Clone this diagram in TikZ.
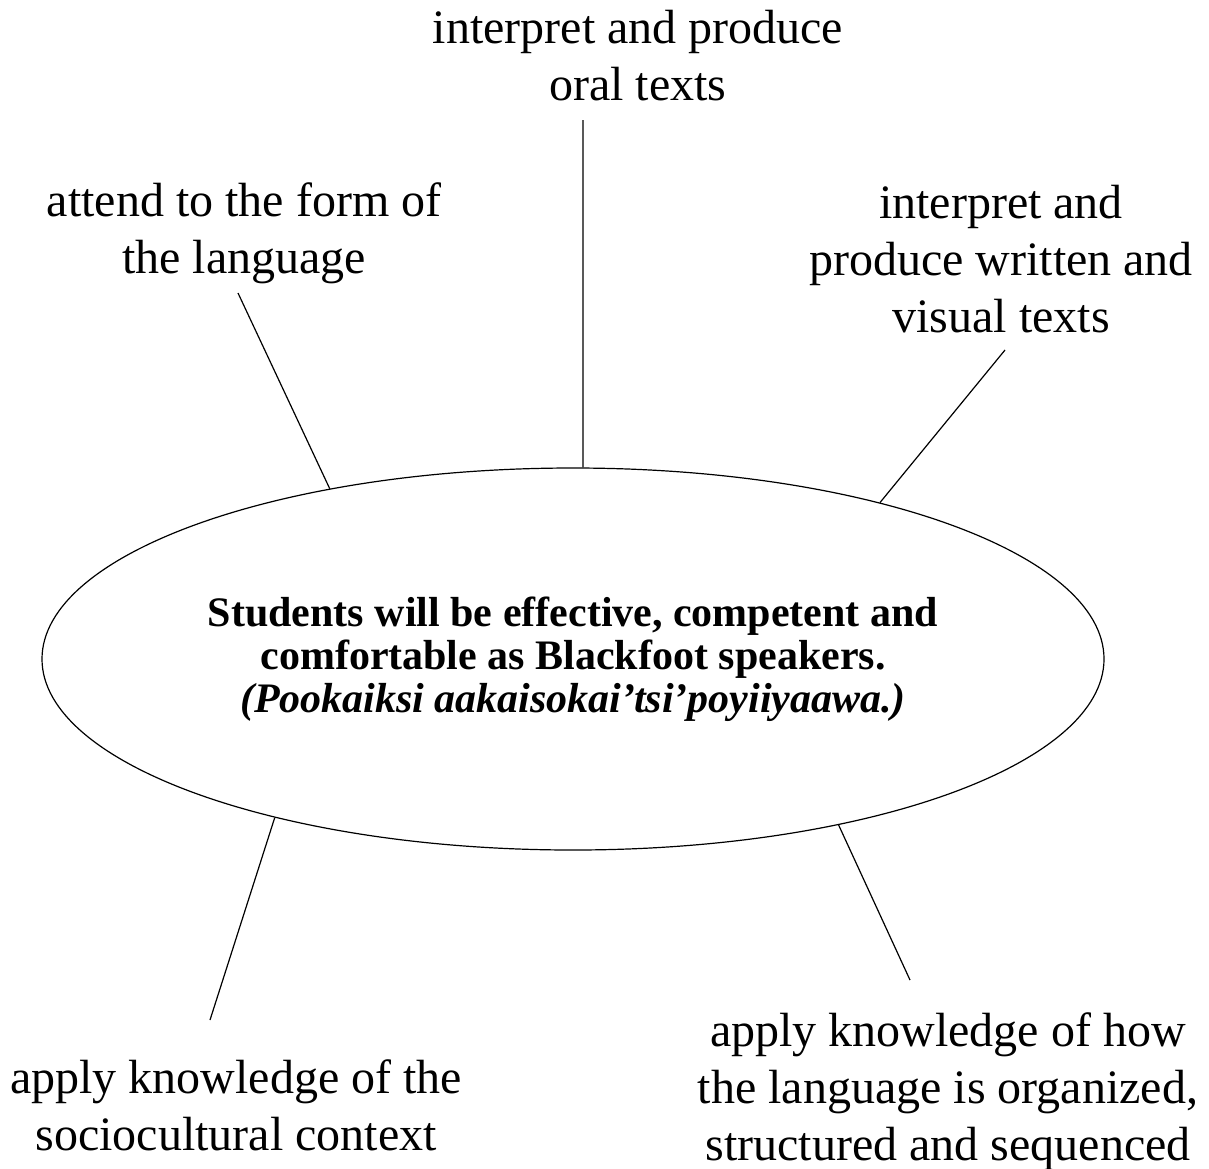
\documentclass[tikz,border=0pt]{standalone}
\usepackage{fontspec}
\setmainfont{Liberation Serif}
\usetikzlibrary{shapes.geometric}

\begin{document}
\begin{tikzpicture}[
    x=1pt, y=1pt,
    skill/.style={align=center, inner sep=0pt, anchor=north, font=\fontsize{48}{57}\selectfont},
    goal/.style={ellipse, draw, line width=1.2pt, minimum width=1062, minimum height=382, inner sep=0pt},
    goaltext/.style={align=center, inner sep=0pt, anchor=north, font=\fontsize{42}{43}\selectfont\bfseries},
    link/.style={line width=1.2pt}
]
\useasboundingbox (0,0) rectangle (1209,-1168);

% Central goal
\node[goal] (oval) at (573,-659) {};
\node[goaltext] (goaltxt) at (573,-597) {Students will be effective, competent and\\
    comfortable as Blackfoot speakers.\\
    \textit{(Pookaiksi aakaisokai’tsi’poyiiyaawa.)}};

% Skills
\node[skill] (oral) at (638,-10) {interpret and produce\\oral texts};
\node[skill] (form) at (244,-182) {attend to the form of\\the language};
\node[skill] (written) at (1001,-185) {interpret and\\produce written and\\visual texts};
\node[skill] (socio) at (236,-1059) {apply knowledge of the\\sociocultural context};
\node[skill] (organ) at (948,-1012) {apply knowledge of how\\the language is organized,\\structured and sequenced};

% Free ends of the links
\coordinate (oralend) at (583,-120);
\coordinate (formend) at (238,-293);
\coordinate (writtenend) at (1005,-350);
\coordinate (socioend) at (210,-1020);
\coordinate (organend) at (910,-980);

% Links to the goal
\draw[link] (oralend) -- (oval.87);
\draw[link] (formend) -- (oval.145.7);
\draw[link] (writtenend) -- (oval.27.8);
\draw[link] (socioend) -- (oval.208.3);
\draw[link] (organend) -- (oval.328.1);

\end{tikzpicture}
\end{document}
